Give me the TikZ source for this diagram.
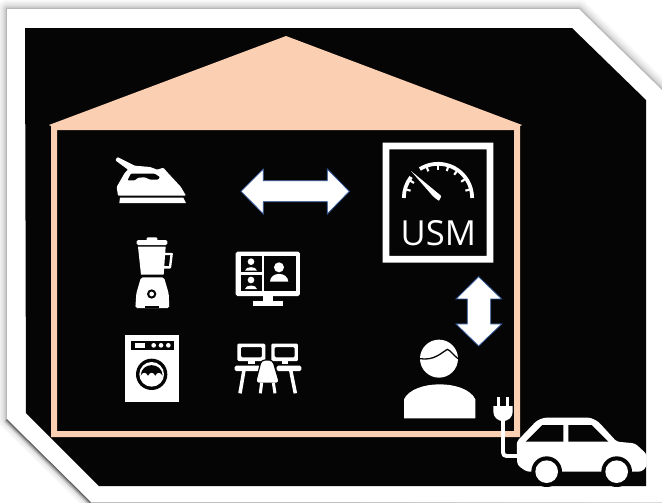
\documentclass[tikz,border=0pt]{standalone}
\usepackage{fontspec}
\newfontfamily\usmfont{Open Sans}
\definecolor{peach}{HTML}{FBCFB1}
\definecolor{ink}{HTML}{050505}
\definecolor{edgeblue}{HTML}{2F5597}
\tikzset{
  ico/.style={fill=white,draw=none},
  cut/.style={fill=ink,draw=none},
  zoomA/.style={shift={(100,230)},scale=0.33333},
  zoomB/.style={shift={(370,130)},scale=0.33333},
  zoomC/.style={shift={(390,330)},scale=0.33333},
  zoomD/.style={shift={(100,145)},scale=0.33333},
  zoomE/.style={shift={(90,130)},scale=0.33333},
  dblarrow/.style={fill=white,draw=edgeblue,line width=0.7pt,line join=miter},
  wline/.style={draw=white,line cap=round,line join=round},
}
\begin{document}
\begin{tikzpicture}[x=0.03cm,y=-0.03cm]
\useasboundingbox (0,0) rectangle (662,503);
\clip (0,0) rectangle (662,503);
\fill[white] (0,0) rectangle (662,503);
% soft shadow of the sheet
\foreach \w/\o in {16/0.025,13/0.03,10/0.035,7/0.05,4/0.07,2/0.1}{
  \draw[black,opacity=\o,line width=\w pt,line join=round]
    (7,9) -- (579,9) -- (664,92) -- (664,505) -- (91,502) -- (7,419) -- cycle;
}
\foreach \w/\o in {7/0.08,5/0.12,3/0.18,1.5/0.25}{
  \draw[black,opacity=\o,line width=\w pt]
    (7,419) -- (91,502);
}
\fill[white] (7,9) -- (579,9) -- (664,92) -- (664,502) -- (91,502) -- (7,419) -- cycle;
% black panel
\fill[ink] (25,28) -- (572,28) -- (646,100) -- (646,486) -- (99,486) -- (26,413) -- cycle;
% house
\fill[peach,even odd rule]
  (49,125) -- (286,36) -- (522,125) -- (520,126) -- (520,437) -- (51,437) -- (51,126) -- cycle
  (57,130) rectangle (514,431);

% iron
\begin{scope}[zoomD]
  \fill[ico,even odd rule,rounded corners=0.8pt]
    (46,46) -- (52,36) -- (104,62) -- (150,66) -- (172,74) -- (190,68) -- (204,84) -- (242,125) -- (258,152)
    -- (54,152) -- (50,126) -- (74,84) -- (84,74) -- cycle
    (82,106) -- (92,86) -- (165,86) -- (180,96) -- (175,104) -- (150,104) -- (135,97) -- (115,98) -- (105,106) -- cycle;
  \fill[ico] (60,158) -- (250,158) -- (258,174) -- (58,174) -- cycle;
\end{scope}

\begin{scope}[zoomA]
  % blender
  \fill[ico,rounded corners=1.2pt] (110,30) rectangle (202,45);
  \fill[ico,rounded corners=1pt] (140,22) rectangle (172,34);
  \fill[ico] (114,50) -- (197,50) -- (191,134) -- (123,134) -- cycle;
  \draw[wline,line width=2pt] (190,72) -- (215,72) -- (210,112) -- (190,112);
  \fill[ico,rounded corners=1.5pt] (123,142) -- (192,142) -- (206,190) -- (208,234) -- (106,234) -- (109,190) -- cycle;
  \fill[cut] (155,192) circle (14);
  \fill[ico] (155,192) circle (7);
  \fill[cut] (135,229) rectangle (178,235);
  % video call monitor
  \fill[ico,rounded corners=1.5pt] (407,65) rectangle (600,198);
  \fill[cut] (422,78) rectangle (485,127);
  \fill[cut] (422,135) rectangle (485,183);
  \fill[cut] (493,78) rectangle (588,183);
  \fill[ico] (490,198) rectangle (520,214);
  \fill[ico] (460,212) rectangle (548,228);
  \fill[ico] (453,95) circle (10);
  \fill[ico] (435,122) .. controls (436,108) and (470,108) .. (471,122) -- cycle;
  \fill[ico] (453,150) circle (10);
  \fill[ico] (435,177) .. controls (436,163) and (470,163) .. (471,177) -- cycle;
  \fill[ico] (537,112) circle (15);
  \fill[ico] (510,155) .. controls (511,124) and (563,124) .. (565,155) -- cycle;
  % washing machine
  \fill[ico] (76,316) rectangle (237,515);
  \fill[cut] (92,332) rectangle (222,360);
  \fill[ico] (105,338) rectangle (135,353);
  \fill[ico] (161,346) circle (7);
  \fill[ico] (183,346) circle (7);
  \fill[ico] (205,346) circle (7);
  \fill[cut] (155,433) circle (47);
  \fill[ico] (155,433) circle (37);
  \fill[cut] (122,437) .. controls (124,395) and (186,395) .. (188,437)
    .. controls (180,425) and (172,425) .. (166,437)
    .. controls (160,425) and (150,425) .. (144,437)
    .. controls (138,425) and (128,425) .. (122,437) -- cycle;
  % desks
  \fill[ico,rounded corners=1pt,even odd rule] (412,341) rectangle (496,393) (423,351) rectangle (486,382);
  \fill[ico,rounded corners=1pt,even odd rule] (514,341) rectangle (594,393) (524,351) rectangle (584,382);
  \fill[ico] (445,392) rectangle (464,402);
  \fill[ico] (545,392) rectangle (564,402);
  \fill[ico,rounded corners=1.3pt] (404,407) rectangle (480,423);
  \fill[ico,rounded corners=1.3pt] (530,407) rectangle (604,423);
  \draw[wline,line width=3pt,line cap=butt] (432,420) -- (420,490);
  \draw[wline,line width=3pt,line cap=butt] (572,420) -- (586,490);
  \fill[ico,rounded corners=3pt,draw=ink,line width=1pt]
    (466,460) -- (484,390) -- (518,390) -- (539,460) -- cycle;
  \draw[wline,line width=2.6pt,line cap=butt] (485,458) -- (481,490);
  \draw[wline,line width=2.6pt,line cap=butt] (520,458) -- (525,490);
\end{scope}

% horizontal arrow
\begin{scope}[zoomE]
  \draw[dblarrow] (453,184) -- (520,117) -- (520,152) -- (712,152) -- (712,117) -- (778,184)
    -- (712,252) -- (712,215) -- (520,215) -- (520,252) -- cycle;
\end{scope}

\begin{scope}[zoomB]
  % USM meter
  \fill[ico,even odd rule] (38,38) rectangle (370,398) (58,58) rectangle (350,378);
  \draw[white,line width=3.2pt] (204,204) ++(-180:102.5) arc[start angle=-180,end angle=-142,radius=102.5];
  \draw[white,line width=3.2pt] (204,204) ++(-122:102.5) arc[start angle=-122,end angle=0,radius=102.5];
  \foreach \a in {15,35,55,72,90,110,148,165}{
    \draw[white,line width=1.8pt] (204,204) ++(-\a:98) -- ++(-\a:-13);
  }
  \fill[ico,rounded corners=0.6pt] (122,122) -- (214,198) -- (207,213) -- (190,200) -- cycle;
  \node[text=white,inner sep=0pt,font=\usmfont\fontsize{29.5pt}{29.5pt}\selectfont] (usm) at (205,310) {USM};
  % vertical arrow
  \draw[dblarrow] (326,440) -- (395,507) -- (362,507) -- (362,582) -- (395,582) -- (326,648)
    -- (258,582) -- (292,582) -- (292,507) -- (258,507) -- cycle;
\end{scope}

\begin{scope}[zoomC]
  % person
  \fill[ico] (147,86) circle (57);
  \draw[ink,line width=1.1pt] (90,86) .. controls (130,92) and (150,72) .. (172,58) .. controls (182,62) and (190,75) .. (204,86);
  \fill[ico] (42,265) -- (42,208) .. controls (70,148) and (228,148) .. (256,208) -- (256,265) -- cycle;
  % plug and cord
  \fill[ico] (320,200) rectangle (331,232);
  \fill[ico] (347,200) rectangle (358,232);
  \fill[ico] (310,228) -- (368,228) -- (368,245) .. controls (368,262) and (355,272) .. (339,274)
    .. controls (323,272) and (310,262) .. (310,245) -- cycle;
  \draw[white,line width=3.4pt,rounded corners=3pt] (339,270) -- (339,378) -- (392,378);
  % car
  \fill[ico,rounded corners=2.5pt]
    (380,335) -- (440,272) -- (462,263) -- (602,263) -- (625,275) -- (680,335) -- (735,340)
    -- (770,372) -- (770,410) -- (755,425) -- (410,425) -- (382,405) -- cycle;
  \fill[cut] (407,335) -- (457,285) -- (520,285) -- (520,335) -- cycle;
  \fill[cut] (535,285) -- (605,285) -- (655,335) -- (535,335) -- cycle;
  \fill[cut] (470,425) circle (46);
  \fill[cut] (680,425) circle (46);
  \fill[ico] (470,425) circle (34);
  \fill[ico] (680,425) circle (34);
\end{scope}
\end{tikzpicture}
\end{document}
